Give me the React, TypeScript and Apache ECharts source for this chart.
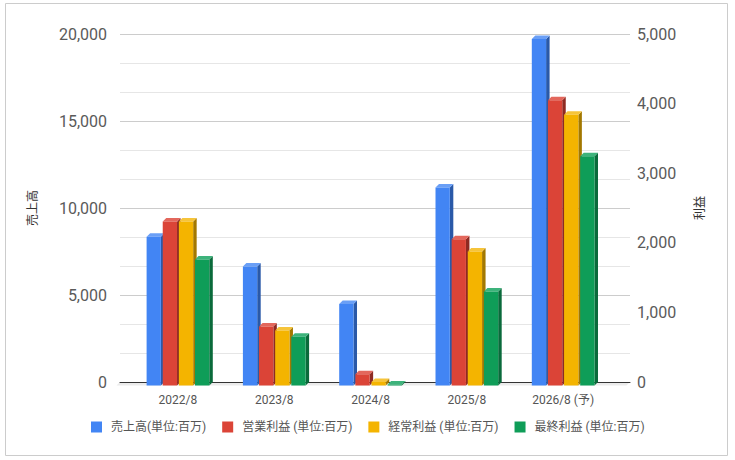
import React, { useEffect, useRef } from "react";
import * as echarts from "echarts";

const categories = ["2022/8", "2023/8", "2024/8", "2025/8", "2026/8 (予)"];
const seriesNames = [
  "売上高(単位:百万)",
  "営業利益 (単位:百万)",
  "経常利益 (単位:百万)",
  "最終利益 (単位:百万)",
];
const sales = [8550, 6840, 4690, 11380, 19920];
const operatingProfit = [2355, 848, 163, 2100, 4100];
const ordinaryProfit = [2355, 790, 50, 1925, 3890];
const netProfit = [1810, 700, 15, 1350, 3295];
const leftTicks = { min: 0, max: 20000, interval: 5000 };
const rightTicks = { min: 0, max: 5000, interval: 1000 };

const frontColors = ["#4285F4", "#DB4437", "#F4B400", "#0F9D58"];
const sideColors = ["#2a59a8", "#8e2a22", "#a37800", "#0a6a3b"];
const topColors = ["#6a9ff6", "#e3675c", "#f6c43a", "#3db37b"];

const fmt = (v: number) => v.toLocaleString("en-US");

export default function App() {
  const ref = useRef<HTMLDivElement>(null);
  useEffect(() => {
    document.body.style.margin = "0";
    if (!ref.current) return;
    const chart = echarts.init(ref.current, undefined, { renderer: "svg" });
    const allValues = [sales, operatingProfit, ordinaryProfit, netProfit];

    const makeSeries = (idx: number) => ({
      type: "custom",
      name: seriesNames[idx],
      xAxisIndex: 1,
      yAxisIndex: idx === 0 ? 2 : 3,
      itemStyle: { color: frontColors[idx] },
      encode: { x: 0, y: 1 },
      data: allValues[idx].map((v, i) => [i, v]),
      renderItem: (params: any, api: any) => {
        const cat = api.value(0);
        const val = api.value(1);
        const top = api.coord([cat, val]);
        const base = api.coord([cat, 0]);
        const bandW = api.size([1, 0])[0];
        const barW = bandW * 0.1485;
        const gap = bandW * 0.019;
        const groupW = 4 * barW + 3 * gap;
        const x0 = top[0] - groupW / 2 + idx * (barW + gap);
        const x1 = x0 + barW;
        const dx = 3.5;
        const dy = 3.5;
        const yT = top[1] + dy;
        const yB = base[1] + dy;
        return {
          type: "group",
          children: [
            {
              type: "polygon",
              shape: { points: [[x1, yT], [x1 + dx, yT - dy], [x1 + dx, yB - dy], [x1, yB]] },
              style: { fill: sideColors[idx] },
            },
            {
              type: "polygon",
              shape: { points: [[x0, yT], [x0 + dx, yT - dy], [x1 + dx, yT - dy], [x1, yT]] },
              style: { fill: topColors[idx] },
            },
            {
              type: "rect",
              shape: { x: x0, y: yT, width: barW, height: Math.max(0, yB - yT) },
              style: { fill: frontColors[idx] },
            },
          ],
        };
      },
    });

    const labelColor = "#5a5a5a";
    chart.setOption({
      animation: false,
      textStyle: { fontFamily: "Roboto, 'Noto Sans CJK JP', sans-serif" },
      grid: [
        { left: 120, top: 34, width: 510, height: 348 },
        { left: 129.8, top: 34, width: 481.5, height: 348 },
      ],
      graphic: [
        {
          type: "rect",
          z: -10,
          shape: { x: 5.5, y: 3.5, width: 722, height: 452 },
          style: { fill: "none", stroke: "#cccccc", lineWidth: 1 },
        },
        {
          type: "polygon",
          z: -5,
          shape: { points: [[120, 382], [630, 382], [626.5, 385.5], [116.5, 385.5]] },
          style: { fill: "#ebebeb" },
        },
      ],
      legend: {
        data: seriesNames,
        left: 91,
        top: 421,
        padding: 0,
        icon: "rect",
        itemWidth: 11,
        itemHeight: 11,
        itemGap: 16,
        textStyle: { fontSize: 12, color: "#555", padding: [0, 0, 0, 4] },
      },
      xAxis: [
        {
          gridIndex: 0,
          type: "value",
          min: 0,
          max: 1,
          axisLine: { show: true, onZero: false, lineStyle: { color: "#333", width: 1 } },
          axisTick: { show: false },
          axisLabel: { show: false },
          splitLine: { show: false },
        },
        {
          gridIndex: 1,
          type: "category",
          data: categories,
          axisLine: { show: false },
          axisTick: { show: false },
          axisLabel: { fontSize: 12, color: "#555", margin: 12 },
        },
      ],
      yAxis: [
        {
          gridIndex: 0,
          type: "value",
          position: "left",
          ...leftTicks,
          name: "売上高",
          nameLocation: "middle",
          nameRotate: 90,
          nameGap: 81,
          nameTextStyle: { fontSize: 12, color: "#333333" },
          axisLine: { show: false, lineStyle: { color: "#333333" } },
          axisTick: { show: false },
          axisLabel: { fontSize: 16, color: labelColor, margin: 13, formatter: (v: number) => fmt(v) },
          splitLine: { show: true, lineStyle: { color: "#cccccc" } },
          minorTick: { show: false, splitNumber: 3 },
          minorSplitLine: { show: true, lineStyle: { color: "#e6e6e6" } },
        },
        {
          gridIndex: 0,
          type: "value",
          position: "right",
          ...rightTicks,
          name: "利益",
          nameLocation: "middle",
          nameRotate: 90,
          nameGap: 64,
          nameTextStyle: { fontSize: 12, color: "#333333" },
          axisLine: { show: false, lineStyle: { color: "#333333" } },
          axisTick: { show: false },
          axisLabel: { fontSize: 16, color: labelColor, margin: 7, formatter: (v: number) => fmt(v) },
          splitLine: { show: false },
        },
        {
          gridIndex: 1,
          type: "value",
          ...leftTicks,
          show: false,
          splitLine: { show: false },
        },
        {
          gridIndex: 1,
          type: "value",
          ...rightTicks,
          show: false,
          splitLine: { show: false },
        },
      ],
      series: [0, 1, 2, 3].map(makeSeries),
    });
    return () => chart.dispose();
  }, []);
  return <div ref={ref} style={{ width: 735, height: 460 }} />;
}
